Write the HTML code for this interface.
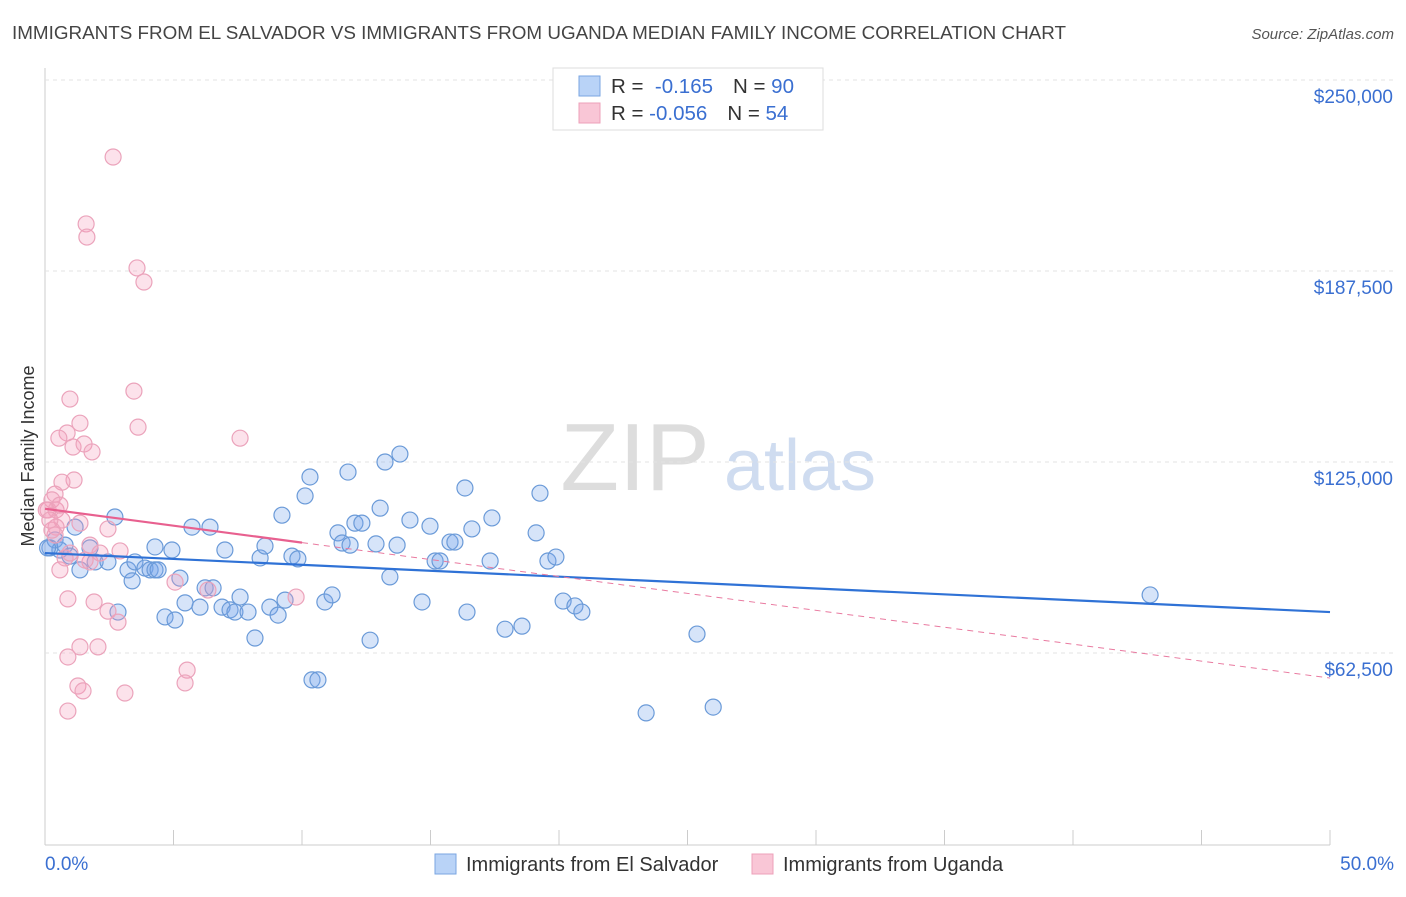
<!DOCTYPE html>
<html><head><meta charset="utf-8"><style>
body{margin:0;background:#fff;font-family:"Liberation Sans",sans-serif}
svg text{font-family:"Liberation Sans",sans-serif}
</style></head><body>
<svg id="c" width="1406" height="892">
<text x="12" y="39" font-size="18" fill="#444" textLength="1054" lengthAdjust="spacingAndGlyphs">IMMIGRANTS FROM EL SALVADOR VS IMMIGRANTS FROM UGANDA MEDIAN FAMILY INCOME CORRELATION CHART</text>
<text x="1394" y="39" font-size="15" fill="#555" font-style="italic" text-anchor="end">Source: ZipAtlas.com</text>
<text transform="translate(34,456) rotate(-90)" font-size="18" fill="#333" text-anchor="middle">Median Family Income</text>
<g><text x="635" y="490" font-size="96" fill="#ddd" font-family="Liberation Serif" text-anchor="middle">ZIP</text><text x="800" y="490" font-size="72" fill="#cfdcf0" text-anchor="middle">atlas</text></g>
<g id="grid"></g><g id="marks"></g>
<g>
<rect x="553" y="68" width="270" height="62" fill="#fff" stroke="#ddd"/>
<rect x="579" y="76" width="21" height="20" fill="#b9d3f7" stroke="#7aa6e2"/>
<rect x="579" y="103" width="21" height="20" fill="#f9c6d6" stroke="#eda0b9"/>
<text x="611" y="93" font-size="20.5" fill="#333">R = <tspan fill="#3a6fd1">&#160;-0.165</tspan><tspan dx="20">N = </tspan><tspan fill="#3a6fd1">90</tspan></text>
<text x="611" y="120" font-size="20.5" fill="#333">R = <tspan fill="#3a6fd1">-0.056</tspan><tspan dx="20">N = </tspan><tspan fill="#3a6fd1">54</tspan></text>
</g>
<g>
<rect x="435" y="854" width="21" height="20" fill="#b9d3f7" stroke="#7aa6e2"/>
<text x="466" y="871" font-size="20" fill="#333">Immigrants from El Salvador</text>
<rect x="752" y="854" width="21" height="20" fill="#f9c6d6" stroke="#eda0b9"/>
<text x="783" y="871" font-size="20" fill="#333">Immigrants from Uganda</text>
</g>
<text x="45" y="870" font-size="19" fill="#3a6fd1">0.0%</text>
<text x="1394" y="870" font-size="19" fill="#3a6fd1" text-anchor="end">50.0%</text>
</svg>
<script>
const yTicks=[62500,125000,187500,250000];
const yTickLabels=["$62,500","$125,000","$187,500","$250,000"];
const blueX=[0.19,0.39,0.58,0.78,0.97,1.17,1.36,1.75,1.95,2.45,2.72,2.84,3.23,3.39,3.50,3.89,4.09,4.28,4.40,4.28,4.67,4.94,5.06,5.25,5.45,5.72,6.03,6.23,6.42,6.54,6.89,7.00,7.20,7.39,7.59,7.90,8.17,8.37,8.56,8.75,9.07,9.22,9.34,9.61,9.84,10.12,10.31,10.39,10.62,10.89,11.17,11.40,11.56,11.79,11.87,12.06,12.33,12.65,12.88,13.04,13.23,13.42,13.70,13.81,14.20,14.67,14.98,15.18,15.37,15.76,15.95,16.34,16.42,16.61,17.32,17.39,17.90,18.56,19.11,19.26,19.57,19.88,20.16,20.62,20.89,23.39,25.37,26.00,43.00,0.1];
const blueY=[96.9,99.5,96.2,97.8,94.2,103.7,89.7,96.9,92.3,92.3,107.0,75.9,89.7,86.1,92.3,90.3,89.7,89.7,89.7,97.2,74.3,96.2,73.3,87.0,78.9,103.7,77.5,83.8,103.7,83.8,77.5,96.2,76.6,75.9,80.8,75.9,67.4,93.6,97.5,77.5,74.9,107.6,79.8,94.2,93.3,113.9,120.1,53.7,53.7,79.2,81.5,101.8,98.5,121.7,97.8,105.0,105.0,66.7,98.2,109.9,125.0,87.4,97.8,127.6,106.0,79.2,104.0,92.6,92.6,98.8,98.8,116.5,75.9,103.1,92.6,106.7,70.3,71.3,101.8,114.8,92.6,93.9,79.5,77.9,75.9,42.9,68.7,44.8,81.5,96.9];
const pinkX=[2.65,1.60,1.63,3.58,3.85,3.46,0.97,3.62,1.36,0.86,0.54,7.59,1.09,1.52,1.83,1.13,0.66,0.39,0.27,0.43,0.12,0.66,0.43,1.36,2.45,0.39,1.75,2.92,0.78,1.75,0.58,5.06,6.34,0.89,1.91,9.77,2.45,2.84,1.36,2.06,0.89,5.53,5.45,1.28,1.48,3.11,0.89,0.27,0.05,0.58,0.97,2.14,0.19,1.56];
const pinkY=[224.8,202.9,198.6,188.5,183.9,148.2,145.6,136.4,137.7,134.5,132.8,132.8,129.9,130.9,128.3,119.1,118.4,114.5,112.6,109.3,109.3,106.0,103.7,105.0,103.1,101.1,97.8,95.9,93.6,92.3,89.7,85.7,83.1,80.2,79.2,80.8,76.2,72.6,64.5,64.5,61.2,56.9,52.7,51.7,50.1,49.4,43.5,102.7,109.3,110.9,95.2,95.2,106.0,92.9];
const blueTrend=[95.2,75.9];
const pinkTrend=[109.7,54.3];
const X0=45,X1=1330,Y0=844,PX=191/62.5;
const sx=v=>X0+(X1-X0)*v/50;
const sy=k=>Y0-k*PX;
const NS="http://www.w3.org/2000/svg";
function mk(t,a,p){const e=document.createElementNS(NS,t);for(const k in a)e.setAttribute(k,a[k]);p.appendChild(e);return e;}
const grid=document.getElementById('grid'),marks=document.getElementById('marks');
mk('line',{x1:45,y1:68,x2:45,y2:845,stroke:'#ccc'},grid);
mk('line',{x1:45,y1:845,x2:1330,y2:845,stroke:'#ccc'},grid);
for(let i=0;i<=10;i++){const l=mk('line',{x1:sx(i*5),y1:830,x2:sx(i*5),y2:845,stroke:'#ccc'},grid);

}
yTicks.forEach((v,i)=>{const y=sy(v/1000);
const g=mk('line',{x1:45,y1:y,x2:1394,y2:y,stroke:'#e3e3e3','stroke-dasharray':'4,4'},grid);


const t=mk('text',{x:1393,y:y+23,'font-size':19,fill:'#3a6fd1','text-anchor':'end'},grid);
t.textContent=yTickLabels[i];

});
blueX.forEach((x,i)=>{const c=mk('circle',{cx:sx(x),cy:sy(blueY[i]),r:8,fill:'rgba(120,165,235,0.3)',stroke:'#6a9ad8','stroke-width':1.2},marks);

});
pinkX.forEach((x,i)=>{const c=mk('circle',{cx:sx(x),cy:sy(pinkY[i]),r:8,fill:'rgba(245,160,190,0.3)',stroke:'#eba3bb','stroke-width':1.2},marks);

});
const bl=mk('line',{x1:sx(0),y1:sy(blueTrend[0]),x2:sx(50),y2:sy(blueTrend[1]),stroke:'#2f72d6','stroke-width':2.2},marks);


const pm=pinkTrend[0]+(pinkTrend[1]-pinkTrend[0])*10/50;
const pd=mk('line',{x1:sx(10),y1:sy(pm),x2:sx(50),y2:sy(pinkTrend[1]),stroke:'#e97aa0','stroke-width':1,'stroke-dasharray':'6,5'},marks);


const ps=mk('line',{x1:sx(0),y1:sy(pinkTrend[0]),x2:sx(10),y2:sy(pm),stroke:'#e8608f','stroke-width':2.2},marks);


</script>
</body></html>
